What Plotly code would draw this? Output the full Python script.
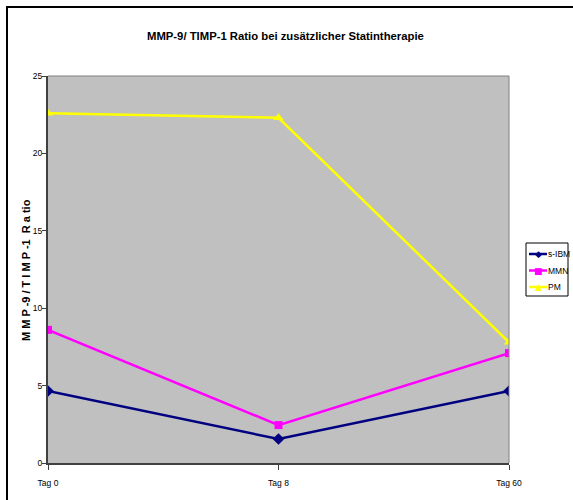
import plotly.graph_objects as go

# Categories and ratio values per group
days = ["Tag 0", "Tag 8", "Tag 60"]
sibm = [4.65, 1.55, 4.65]
mmn = [8.6, 2.45, 7.1]
pm = [22.6, 22.3, 7.8]
y_ticks = [0, 5, 10, 15, 20, 25]

FONT = "Liberation Sans Narrow, Arial Narrow, Liberation Sans, Arial, sans-serif"

# plot area in pixels
L, R, T, B = 48, 509, 76, 463
W, H = 573, 500


def px(xp):
    return (xp - L) / (R - L)


def py(yp):
    return (B - yp) / (B - T)


series = [
    ("s-IBM", sibm, "#000080", "diamond", 9, "◆"),
    ("MMN", mmn, "#FF00FF", "square", 8, "■"),
    ("PM", pm, "#FFFF00", "triangle-up", 9, "▲"),
]

fig = go.Figure()
for name, vals, color, sym, size, _ in series:
    fig.add_trace(go.Scatter(
        x=[0, 1, 2], y=vals, name=name, mode="lines+markers",
        line=dict(color=color, width=2.5),
        marker=dict(symbol=sym, size=size, color=color, line=dict(width=0)),
        showlegend=False,
    ))

fig.update_layout(
    width=W, height=H,
    margin=dict(l=L, r=W - R, t=T, b=H - B, autoexpand=False),
    paper_bgcolor="white", plot_bgcolor="#C0C0C0",
    font=dict(family=FONT, color="black"),
    showlegend=False,
)
fig.update_xaxes(
    range=[0, 2], tickmode="array", tickvals=[0, 1, 2], ticktext=days,
    ticks="outside", ticklen=5, tickcolor="#404040", tickwidth=1,
    showgrid=False, zeroline=False,
    showline=True, linecolor="#404040", linewidth=2,
    tickfont=dict(size=8.5, family=FONT), ticklabelstandoff=6,
)
fig.update_yaxes(
    range=[0, 25], tickmode="array", tickvals=y_ticks,
    ticks="outside", ticklen=4, tickcolor="#404040", tickwidth=1,
    showgrid=False, zeroline=False,
    showline=True, linecolor="#404040", linewidth=2,
    tickfont=dict(size=8.5, family=FONT), ticklabelstandoff=-2,
)

# plot-area frame on top and right
fig.add_shape(type="line", xref="paper", yref="paper", x0=0, x1=1, y0=1, y1=1,
              line=dict(color="#808080", width=1))
fig.add_shape(type="line", xref="paper", yref="paper", x0=1, x1=1, y0=0, y1=1,
              line=dict(color="#808080", width=1))

# outer chart border (runs off the right and bottom edges)
fig.add_shape(type="rect", xref="paper", yref="paper",
              x0=px(7), x1=px(590), y0=py(520), y1=py(7),
              line=dict(color="black", width=2), fillcolor="rgba(0,0,0,0)", layer="below")

# compact legend box
fig.add_shape(type="rect", xref="paper", yref="paper",
              x0=px(526), x1=px(568), y0=py(296), y1=py(243),
              line=dict(color="black", width=1), fillcolor="white")
for i, (name, _, color, _, _, glyph) in enumerate(series):
    yc = 254 + i * 16.5
    fig.add_shape(type="line", xref="paper", yref="paper",
                  x0=px(529), x1=px(547), y0=py(yc), y1=py(yc),
                  line=dict(color=color, width=2.5))
    fig.add_annotation(text=glyph, xref="paper", yref="paper", x=px(538), y=py(yc),
                       xanchor="center", yanchor="middle", showarrow=False,
                       font=dict(size=9, color=color, family="DejaVu Sans"))
    fig.add_annotation(text=name, xref="paper", yref="paper", x=px(546), y=py(yc),
                       xanchor="left", yanchor="middle", showarrow=False,
                       font=dict(size=8.5, family=FONT))

fig.add_annotation(
    text="<b>MMP-9/ TIMP-1 Ratio bei zusätzlicher Statintherapie</b>",
    xref="paper", yref="paper", x=px(285), y=py(36),
    xanchor="center", yanchor="middle", showarrow=False,
    font=dict(size=11.3, family=FONT),
)
fig.add_annotation(
    text="<b>M M P -9 / T I M P -1  R a tio</b>",
    xref="paper", yref="paper", x=px(26), y=py(270),
    xanchor="center", yanchor="middle", showarrow=False, textangle=-90,
    font=dict(size=11, family=FONT),
)

fig.write_html("out.html")
